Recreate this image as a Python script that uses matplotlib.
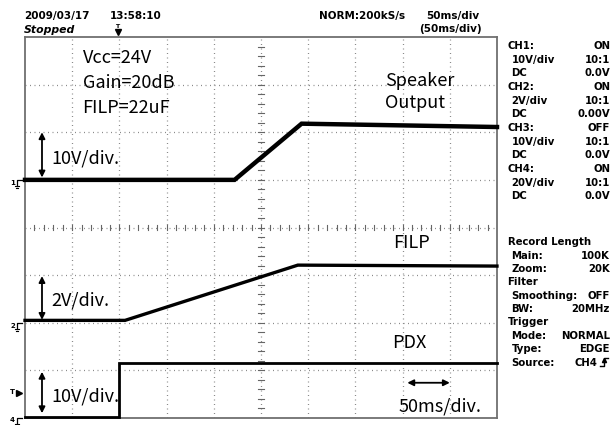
import matplotlib
matplotlib.use('Agg')
import matplotlib.pyplot as plt

# ---------------- data ----------------
# time in ms (50 ms/div, 10 divisions), voltages in V
ch1_time = [0, 222, 293, 500]
ch1_volts = [0.0, 0.0, 11.8, 11.1]     # Speaker Output
ch2_time = [0, 106, 289, 500]
ch2_volts = [0.1, 0.1, 2.42, 2.38]     # FILP
ch4_time = [0, 100, 100, 500]
ch4_volts = [0.3, 0.3, 23.1, 23.1]     # PDX

ch1_scale, ch1_offset = 10.0, 5.0      # V/div, ground position (div)
ch2_scale, ch2_offset = 2.0, 2.0
ch4_scale, ch4_offset = 20.0, 0.0

header_left = ["2009/03/17", "13:58:10"]
header_state = "Stopped"
header_rate = "NORM:200kS/s"
header_tdiv = ["50ms/div", "(50ms/div)"]

panel_ch = [("CH1:", "ON", 0), ("10V/div", "10:1", 1), ("DC", "0.0V", 1),
            ("CH2:", "ON", 0), ("2V/div", "10:1", 1), ("DC", "0.00V", 1),
            ("CH3:", "OFF", 0), ("10V/div", "10:1", 1), ("DC", "0.0V", 1),
            ("CH4:", "ON", 0), ("20V/div", "10:1", 1), ("DC", "0.0V", 1)]
panel_rec = [("Record Length", "", 0), ("Main:", "100K", 1), ("Zoom:", "20K", 1),
             ("Filter", "", 0), ("Smoothing:", "OFF", 1), ("BW:", "20MHz", 1),
             ("Trigger", "", 0), ("Mode:", "NORMAL", 1), ("Type:", "EDGE", 1),
             ("Source:", "CH4", 1)]

cond_text = ["Vcc=24V", "Gain=20dB", "FILP=22uF"]

# ---------------- figure ----------------
W, H = 612, 425
fig = plt.figure(figsize=(W / 100, H / 100), dpi=100)
fig.patch.set_facecolor('white')
L, R, T, B = 25, 497, 37, 418
ax = fig.add_axes([L / W, 1 - B / H, (R - L) / W, (B - T) / H])
ax.set_xlim(0, 500)
ax.set_ylim(0, 8)
ax.set_xticks([])
ax.set_yticks([])
for s in ax.spines.values():
    s.set_color('#707070')
    s.set_linewidth(1.3)

gcol = '#8a8a8a'
dot = (0, (0.8, 2.8))
for i in range(1, 10):
    ax.axvline(i * 50, color=gcol, lw=0.9, ls=dot, zorder=1)
for j in range(1, 8):
    ax.axhline(j, color=gcol, lw=0.9, ls=dot, zorder=1)
# center crosshair ticks
for k in range(1, 50):
    x = k * 10
    ax.plot([x, x], [4 - 0.06, 4 + 0.06], color='#666666', lw=0.8, zorder=1)
for k in range(1, 40):
    y = k * 0.2
    ax.plot([250 - 3.2, 250 + 3.2], [y, y], color='#666666', lw=0.8, zorder=1)

def to_div(v, scale, off):
    return [off + x / scale for x in v]

ax.plot(ch1_time, to_div(ch1_volts, ch1_scale, ch1_offset), color='black', lw=3.2,
        solid_joinstyle='miter', zorder=3, clip_on=False)
ax.plot(ch2_time, to_div(ch2_volts, ch2_scale, ch2_offset), color='black', lw=2.4,
        solid_joinstyle='miter', zorder=3, clip_on=False)
ax.plot(ch4_time, to_div(ch4_volts, ch4_scale, ch4_offset), color='black', lw=2.0,
        solid_joinstyle='miter', zorder=3, clip_on=False)

fj = 'Noto Sans CJK JP'
fs = 13
ap = dict(arrowstyle='<|-|>', color='black', lw=1.3, mutation_scale=9, shrinkA=0, shrinkB=0)

for i, t in enumerate(cond_text):
    ax.text(61, 7.46 - i * 0.525, t, family=fj, fontsize=fs, va='baseline', ha='left')

ax.text(381, 6.98, "Speaker", family=fj, fontsize=fs, va='baseline')
ax.text(381, 6.50, "Output", family=fj, fontsize=fs, va='baseline')
ax.text(390, 3.56, "FILP", family=fj, fontsize=fs, va='baseline')
ax.text(389, 1.46, "PDX", family=fj, fontsize=fs, va='baseline')
ax.text(396, 0.13, "50ms/div.", family=fj, fontsize=fs, va='baseline')

ax.annotate('', xy=(18, 6.0), xytext=(18, 5.05), arrowprops=ap)
ax.text(28, 5.34, "10V/div.", family=fj, fontsize=fs, va='baseline')
ax.annotate('', xy=(18, 2.98), xytext=(18, 2.06), arrowprops=ap)
ax.text(28, 2.37, "2V/div.", family=fj, fontsize=fs, va='baseline')
ax.annotate('', xy=(18, 0.97), xytext=(18, 0.1), arrowprops=ap)
ax.text(28, 0.34, "10V/div.", family=fj, fontsize=fs, va='baseline')
ax.annotate('', xy=(405, 0.74), xytext=(450, 0.74), arrowprops=ap)

# ---------------- overlay in pixel coordinates ----------------
ov = fig.add_axes([0, 0, 1, 1])
ov.set_xlim(0, W)
ov.set_ylim(H, 0)
ov.axis('off')

hb = dict(family='DejaVu Sans', fontweight='bold', fontsize=7.5, va='baseline')
ov.text(24, 18.5, header_left[0], **hb)
ov.text(110, 18.5, header_left[1], **hb)
ov.text(24, 32.5, header_state, family='DejaVu Sans', fontweight='bold',
        style='italic', fontsize=7.8, va='baseline')
ov.text(319, 18.5, header_rate, **hb)
ov.text(426, 18.5, header_tdiv[0], **hb)
ov.text(419, 32.0, header_tdiv[1], **hb)

pb = dict(family='DejaVu Sans', fontweight='bold', fontsize=7.3, va='baseline')
for i, (lab, val, ind) in enumerate(panel_ch):
    y = 49.2 + i * 13.64
    ov.text(507.5 + 4 * ind, y, lab, ha='left', **pb)
    if val:
        ov.text(610, y, val, ha='right', **pb)
for i, (lab, val, ind) in enumerate(panel_rec):
    y = 245.2 + i * 13.37
    ov.text(507.5 + 4 * ind, y, lab, ha='left', **pb)
    if val:
        xr = 597 if lab == "Source:" else 610
        ov.text(xr, y, val, ha='right', **pb)
# edge symbol after Source
ys = 245.2 + 9 * 13.37
ov.plot([600, 604, 604, 608], [ys, ys, ys - 8, ys - 8], color='black', lw=1.0)
ov.plot([604], [ys - 6], marker='^', color='black', ms=3)

# trigger position marker at top
ov.text(117.5, 26, "T", fontsize=4.5, fontweight='bold', ha='center', va='center')
ov.plot([117.5], [32], marker='v', color='black', ms=5)

# ground markers
def gnd(label, ypx):
    ov.text(12.5, ypx + 3, label, fontsize=5, fontweight='bold', ha='center', va='center')
    ov.plot([22, 16.5, 16.5], [ypx, ypx, ypx + 6], color='black', lw=0.9)
    ov.plot([14.5, 18.5], [ypx + 6, ypx + 6], color='black', lw=0.8)
    ov.plot([15.5, 17.5], [ypx + 8, ypx + 8], color='black', lw=0.8)

px_per_div = (B - T) / 8
gnd("1", B - ch1_offset * px_per_div)
gnd("2", B - ch2_offset * px_per_div)
gnd("4", B - ch4_offset * px_per_div - 0.5)
# trigger level marker
ov.text(12, 392, "T", fontsize=5, fontweight='bold', ha='center', va='center')
ov.plot([19], [392.5], marker='>', color='black', ms=5)

fig.savefig('out.png', dpi=100)
